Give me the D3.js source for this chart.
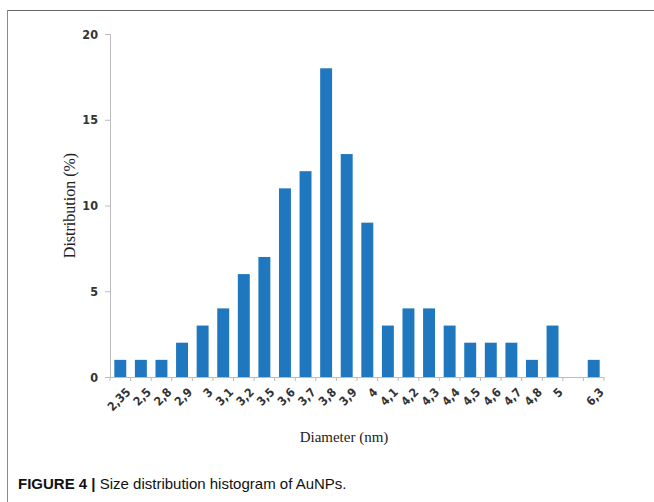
<!DOCTYPE html>
<html>
<head>
<meta charset="utf-8">
<script src="https://cdn.jsdelivr.net/npm/d3@7"></script>
<style>
  body { margin: 0; background: #fff; }
  svg { display: block; }
</style>
</head>
<body>
<svg id="chart" width="654" height="502"></svg>
<script>
// diameter classes (nm) and share of particles (%)
const diameters = ["2,35", "2,5", "2,8", "2,9", "3", "3,1", "3,2", "3,5", "3,6", "3,7", "3,8", "3,9",
  "4", "4,1", "4,2", "4,3", "4,4", "4,5", "4,6", "4,7", "4,8", "5", "", "6,3"];
const distribution = [1, 1, 1, 2, 3, 4, 6, 7, 11, 12, 18, 13, 9, 3, 4, 4, 3, 2, 2, 2, 1, 3, 0, 1];
const yTicks = [0, 5, 10, 15, 20];

const svg = d3.select("#chart");
const tickFont = "'DejaVu Sans Condensed', 'Liberation Sans Narrow', sans-serif";

// figure frame
svg.append("line").attr("x1", 7).attr("x2", 660).attr("y1", 10.5).attr("y2", 10.5)
  .attr("stroke", "#666").attr("stroke-width", 1.2);
svg.append("line").attr("x1", 7.5).attr("x2", 7.5).attr("y1", 10).attr("y2", 510)
  .attr("stroke", "#888").attr("stroke-width", 1);

const plotL = 110, plotR = 604, plotT = 34, plotB = 377;

const keys = diameters.map((d, i) => i);
const x = d3.scaleBand().domain(keys).range([plotL, plotR]).paddingInner(0.42).paddingOuter(0.21);
const y = d3.scaleLinear().domain([0, 20]).range([plotB, plotT]);

// y axis
const yAxis = svg.append("g").attr("transform", `translate(${plotL},0)`)
  .call(d3.axisLeft(y).tickValues(yTicks).tickSize(5).tickPadding(7));
yAxis.select(".domain").attr("stroke", "#bbb");
yAxis.selectAll(".tick line").attr("stroke", "#bbb");
yAxis.selectAll("text").attr("font-family", tickFont)
  .attr("font-size", 12.5).attr("font-weight", "bold").attr("fill", "#333");

// bars
svg.selectAll("rect.bar").data(distribution).enter().append("rect")
  .attr("class", "bar")
  .attr("x", (d, i) => x(i))
  .attr("y", d => y(d))
  .attr("width", x.bandwidth())
  .attr("height", d => plotB - y(d))
  .attr("fill", "#1f77c0");

// x axis line and ticks between categories
const step = x.step();
const xAxis = svg.append("g");
xAxis.append("line").attr("x1", plotL).attr("x2", plotR).attr("y1", plotB + 0.5).attr("y2", plotB + 0.5)
  .attr("stroke", "#bbb");
xAxis.selectAll("line.tk").data(d3.range(keys.length + 1)).enter().append("line")
  .attr("class", "tk")
  .attr("x1", i => plotL + i * step).attr("x2", i => plotL + i * step)
  .attr("y1", plotB).attr("y2", plotB + 4)
  .attr("stroke", "#bbb");

// rotated category labels
xAxis.selectAll("text").data(diameters).enter().append("text")
  .attr("transform", (d, i) => `translate(${x(i) + x.bandwidth() / 2 + 5},${plotB + 10}) rotate(-45)`)
  .attr("text-anchor", "end")
  .attr("dy", "0.7em")
  .attr("font-family", tickFont)
  .attr("font-size", 12)
  .attr("font-weight", "bold")
  .attr("fill", "#333")
  .text(d => d);

// axis titles
svg.append("text")
  .attr("transform", `translate(75,${(plotT + plotB) / 2}) rotate(-90)`)
  .attr("text-anchor", "middle")
  .attr("font-family", "'Liberation Serif', serif")
  .attr("font-size", 16)
  .attr("fill", "#222")
  .text("Distribution (%)");

svg.append("text")
  .attr("x", 344).attr("y", 442)
  .attr("text-anchor", "middle")
  .attr("font-family", "'Liberation Serif', serif")
  .attr("font-size", 15)
  .attr("fill", "#222")
  .text("Diameter (nm)");

// caption
const cap = svg.append("text")
  .attr("x", 18).attr("y", 489)
  .attr("font-family", "'Liberation Sans', Arial, sans-serif")
  .attr("font-size", 15)
  .attr("fill", "#111");
cap.append("tspan").attr("font-weight", "bold").text("FIGURE 4 | ");
cap.append("tspan").text("Size distribution histogram of AuNPs.");
</script>
</body>
</html>
